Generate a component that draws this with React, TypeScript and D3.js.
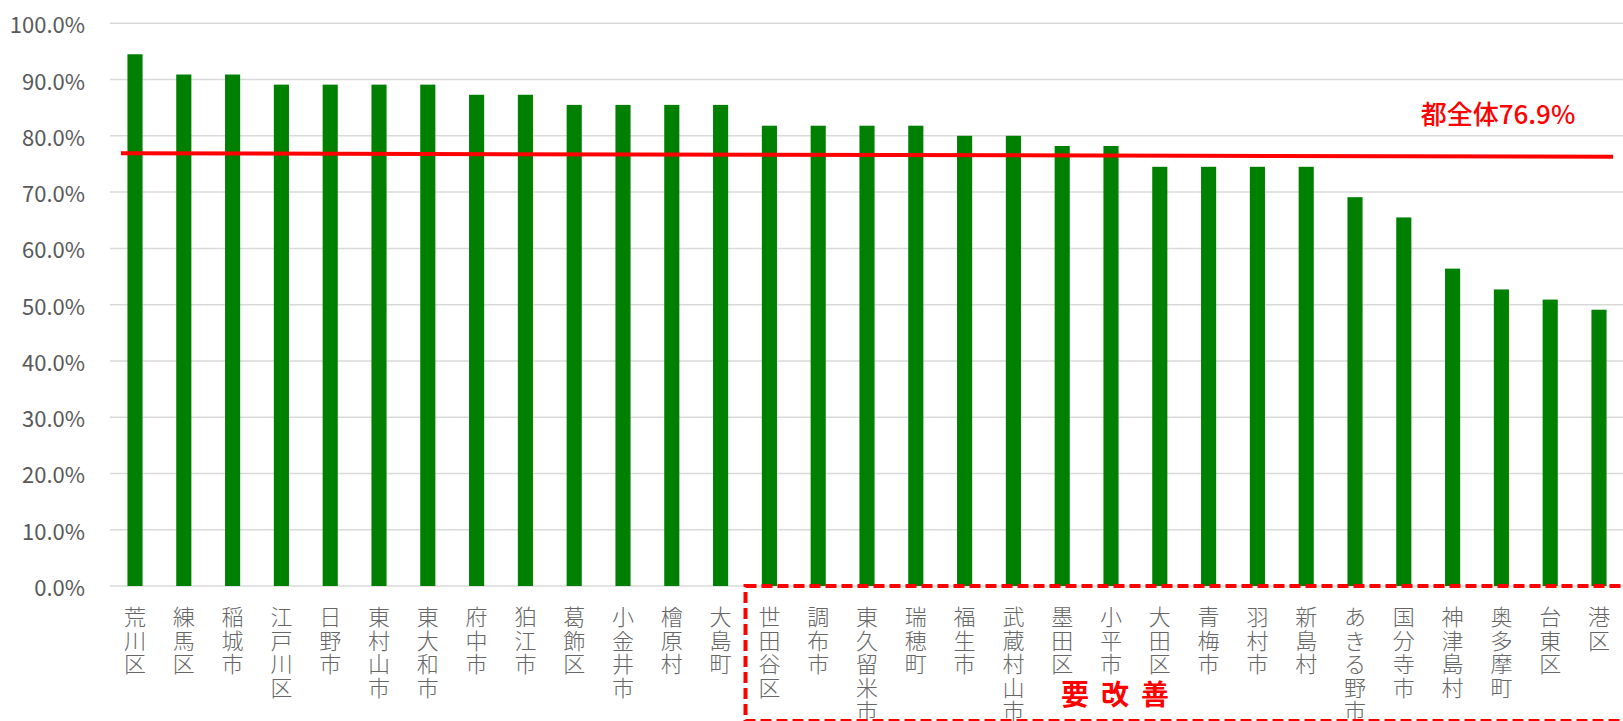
import React from "react";
import * as d3 from "d3";

const categories = [
  "荒川区", "練馬区", "稲城市", "江戸川区", "日野市", "東村山市", "東大和市", "府中市", "狛江市", "葛飾区",
  "小金井市", "檜原村", "大島町", "世田谷区", "調布市", "東久留米市", "瑞穂町", "福生市", "武蔵村山市", "墨田区",
  "小平市", "大田区", "青梅市", "羽村市", "新島村", "あきる野市", "国分寺市", "神津島村", "奥多摩町", "台東区", "港区",
];
const values = [
  94.5, 90.9, 90.9, 89.1, 89.1, 89.1, 89.1, 87.3, 87.3, 85.5,
  85.5, 85.5, 85.5, 81.8, 81.8, 81.8, 81.8, 80.0, 80.0, 78.2,
  78.2, 74.5, 74.5, 74.5, 74.5, 69.1, 65.5, 56.4, 52.7, 50.9, 49.1,
];
const yTicks = [0, 10, 20, 30, 40, 50, 60, 70, 80, 90, 100];
const overallLabel = "都全体76.9%";
const overallLineStart = 76.9;
const overallLineEnd = 76.3;
const improveLabel = "要改善";
const improveFirstIndex = 13;

const W = 1623;
const H = 721;
const FONT = "'Noto Sans CJK JP', 'Noto Sans', sans-serif";

export default function App() {
  const x = d3
    .scaleBand<string>()
    .domain(categories)
    .range([110.6, 1623.4])
    .paddingInner(0.69)
    .paddingOuter(0.345);
  const y = d3.scaleLinear().domain([0, 100]).range([586, 23.3]);
  const step = x.step();
  const bw = x.bandwidth();

  const lineX1 = (x(categories[0]) as number) - 6.5;
  const lineX2 = (x(categories[categories.length - 1]) as number) + bw + 6.5;
  const rectX = (x(categories[improveFirstIndex]) as number) - (step - bw) / 2 + 0.5;

  return (
    <svg
      width={W}
      height={H}
      style={{ position: "absolute", left: 0, top: 0, background: "#fff" }}
      fontFamily={FONT}
    >
      {yTicks.map((t) => (
        <g key={t}>
          <line x1={110} x2={W} y1={y(t)} y2={y(t)} stroke="#d9d9d9" strokeWidth={1.5} />
          <text
            x={85}
            y={y(t)}
            textAnchor="end"
            dominantBaseline="central"
            fontSize={22}
            fill="#595959"
          >
            {t.toFixed(1) + "%"}
          </text>
        </g>
      ))}
      {categories.map((c, i) => (
        <rect
          key={c}
          x={x(c)}
          y={y(values[i])}
          width={bw}
          height={y(0) - y(values[i])}
          fill="#008000"
        />
      ))}
      {categories.map((c) => {
        const cx = (x(c) as number) + bw / 2;
        return (
          <text key={c} textAnchor="middle" fontSize={22} fill="#666666" fontWeight={300}>
            {Array.from(c).map((ch, j) => (
              <tspan key={j} x={cx} y={625 + j * 23.5}>
                {ch}
              </tspan>
            ))}
          </text>
        );
      })}
      <line
        x1={lineX1}
        x2={lineX2}
        y1={y(overallLineStart)}
        y2={y(overallLineEnd)}
        stroke="#ff0000"
        strokeWidth={4}
      />
      <text x={1498} y={124} textAnchor="middle" fontSize={26} fontWeight={500} fill="#ff0000">
        {overallLabel}
      </text>
      <rect
        x={rectX}
        y={y(0)}
        width={W - rectX + 20}
        height={H - y(0)}
        fill="none"
        stroke="#ff0000"
        strokeWidth={4}
        strokeDasharray="11 5"
      />
      <text x={1061} y={705} fontSize={28} fontWeight={700} fill="#ff0000" letterSpacing={12}>
        {improveLabel}
      </text>
    </svg>
  );
}
